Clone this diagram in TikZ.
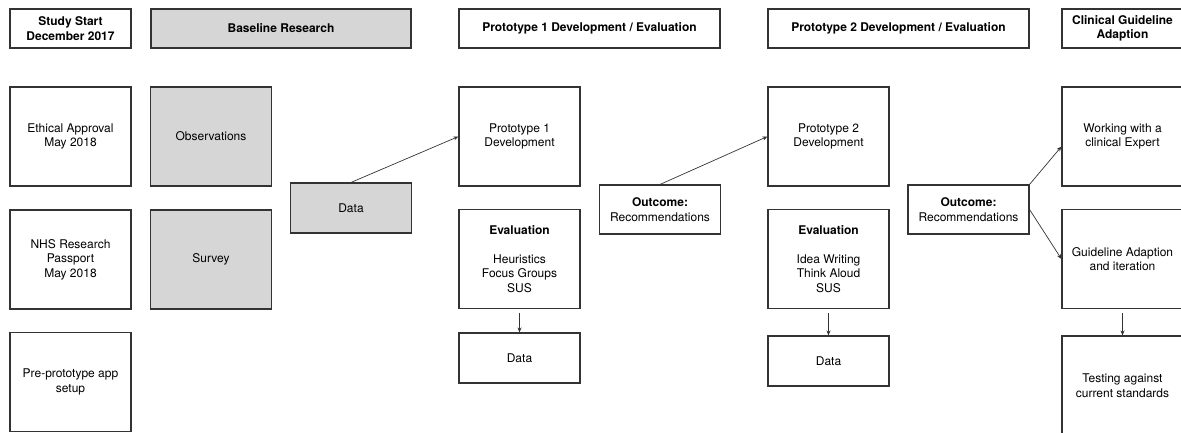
\documentclass[tikz,border=0pt]{standalone}
\usepackage{fontspec}
\setmainfont{TeX Gyre Heros}
\usetikzlibrary{arrows.meta}
\definecolor{boxline}{HTML}{333333}
\definecolor{boxgrey}{HTML}{D6D6D6}
\tikzset{
  stagebox/.style={draw=boxline, line width=1.1pt, align=center, inner sep=0pt,
    font=\fontsize{12}{14.5}\selectfont, minimum width=121pt, minimum height=99pt},
  headbox/.style={stagebox, minimum height=39pt, font=\fontsize{12}{14.5}\selectfont\bfseries},
  shortbox/.style={stagebox, minimum height=50pt},
  greybox/.style={fill=boxgrey},
  flow/.style={draw=boxline, line width=0.7pt, -{Stealth[length=5pt,width=4pt]}}
}
\begin{document}
\begin{tikzpicture}[x=1pt, y=-1pt]
\useasboundingbox (0,0) rectangle (1181,432);

% headers
\node[headbox] (start) at (70.5,28.5) {Study Start\\December 2017};
\node[headbox, greybox, minimum width=260pt] (base) at (281,28.5) {Baseline Research};
\node[headbox, minimum width=261pt] (headA) at (589.5,28.5) {Prototype 1 Development / Evaluation};
\node[headbox, minimum width=261pt] (headB) at (898.5,28.5) {Prototype 2 Development / Evaluation};
\node[headbox] (headC) at (1122.5,28.5) {Clinical Guideline\\Adaption};

% study start column
\node[stagebox] (ethics) at (70.5,136.5) {Ethical Approval\\May 2018};
\node[stagebox] (nhs) at (70.5,259.5) {NHS Research\\Passport\\May 2018};
\node[stagebox] (prepro) at (70.5,382) {Pre-prototype app\\setup};

% baseline research
\node[stagebox, greybox] (obs) at (211,136.5) {Observations};
\node[stagebox, greybox] (survey) at (211,259.5) {Survey};
\node[shortbox, greybox] (data0) at (351,208) {Data};

% prototype 1
\node[stagebox] (devA) at (519.5,136.5) {Prototype 1\\Development};
\node[stagebox] (evalA) at (519.5,259) {\textbf{Evaluation}\\[14.5pt]Heuristics\\Focus Groups\\SUS};
\node[shortbox] (dataA) at (519.5,358) {Data};
\node[shortbox, minimum height=49pt] (outA) at (660,209.5) {\textbf{Outcome:}\\Recommendations};

% prototype 2
\node[stagebox] (devB) at (828.5,136.5) {Prototype 2\\Development};
\node[stagebox] (evalB) at (828.5,259) {\textbf{Evaluation}\\[14.5pt]Idea Writing\\Think Aloud\\SUS};
\node[shortbox] (dataB) at (828.5,361) {Data};
\node[shortbox, minimum height=49pt] (outB) at (968.5,209.5) {\textbf{Outcome:}\\Recommendations};

% clinical guideline
\node[stagebox] (expert) at (1122.5,136.5) {Working with a\\clinical Expert};
\node[stagebox] (guide) at (1122.5,259) {Guideline Adaption\\and iteration};
\node[stagebox] (testing) at (1122.5,385.5) {Testing against\\current standards};

% connectors
\draw[flow] (data0.north) -- (devA.west);
\draw[flow] (outA.north) -- (devB.west);
\draw[flow] (outB.north east) -- ([yshift=-10pt]expert.west);
\draw[flow] (outB.east) -- (guide.west);
\draw[flow, shorten <=4pt] (evalA.south) -- (dataA.north);
\draw[flow, shorten <=4pt] (evalB.south) -- (dataB.north);
\draw[flow, shorten <=4pt] (guide.south) -- (testing.north);
\end{tikzpicture}
\end{document}
